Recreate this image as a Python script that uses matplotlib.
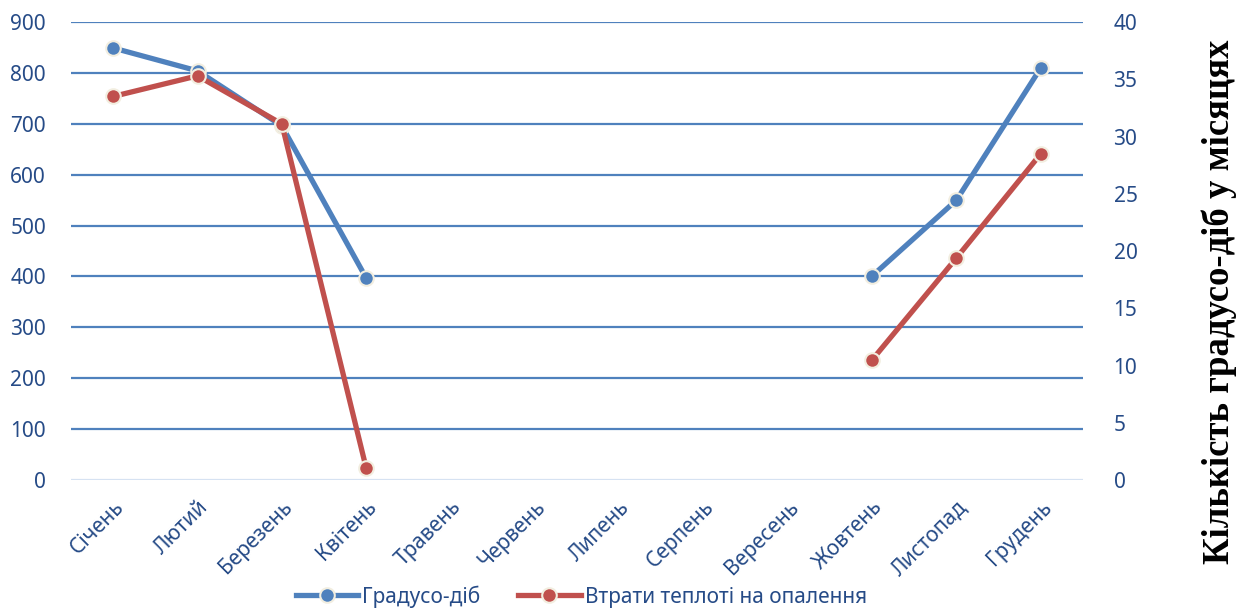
import numpy as np
import matplotlib.pyplot as plt

months = ['Січень', 'Лютий', 'Березень', 'Квітень', 'Травень', 'Червень',
          'Липень', 'Серпень', 'Вересень', 'Жовтень', 'Листопад', 'Грудень']
degree_days = [849, 804, 696, 397, np.nan, np.nan, np.nan, np.nan, np.nan, 401, 550, 810]
heat_loss = [33.5, 35.3, 31.1, 1.05, np.nan, np.nan, np.nan, np.nan, np.nan, 10.5, 19.4, 28.5]

left_ticks = list(range(0, 901, 100))
right_ticks = list(range(0, 41, 5))

blue = '#4f81bd'
red = '#c0504d'
txt = '#264b87'

plt.rcParams['font.family'] = ['Noto Sans', 'DejaVu Sans']

fig = plt.figure(figsize=(12.37, 6.10), dpi=100)
ax = fig.add_axes([0.0574, 0.2131, 0.8181, 0.7508])
ax2 = ax.twinx()

x = np.arange(len(months))

# gridlines on the left scale
for t in left_ticks:
    ax.axhline(t, color='#d6e2f2' if t == 0 else blue, lw=1.6, zorder=0)

l1, = ax.plot(x, degree_days, color=blue, lw=3.8, marker='o', ms=10.5,
              mfc=blue, mec='#f2eee0', mew=1.5, zorder=3, label='Градусо-діб')
l2, = ax2.plot(x, heat_loss, color=red, lw=3.8, marker='o', ms=10.5,
               mfc=red, mec='#f2eee0', mew=1.5, zorder=3,
               label='Втрати теплоті на опалення')

ax.set_xlim(-0.5, len(months) - 0.5)
ax.set_ylim(0, 900)
ax2.set_ylim(0, 40)
ax.set_yticks(left_ticks)
ax2.set_yticks(right_ticks)
ax.set_xticks(x)
ax.set_xticklabels(months, rotation=45, ha='right', rotation_mode='anchor',
                   fontsize=15, color=txt)

for a in (ax, ax2):
    for s in a.spines.values():
        s.set_visible(False)
    a.tick_params(length=0, labelsize=15, labelcolor=txt)
ax.tick_params(axis='y', pad=18)
ax.tick_params(axis='x', pad=12)
ax2.tick_params(axis='y', pad=22)

# vertical title on the right, centred on the whole figure height
fig.text(0.986, 0.505, 'Кількість градусо-діб у місяцях', family='Liberation Serif',
         fontweight='bold', fontsize=26.5, color='black', rotation=90,
         ha='center', va='center')

fig.legend(handles=[l1, l2], loc='lower center', bbox_to_anchor=(0.47, -0.027),
           ncol=2, frameon=False, fontsize=15, labelcolor=txt,
           handlelength=3, handletextpad=0.2, columnspacing=1.8)

fig.savefig('out.png', dpi=100)
